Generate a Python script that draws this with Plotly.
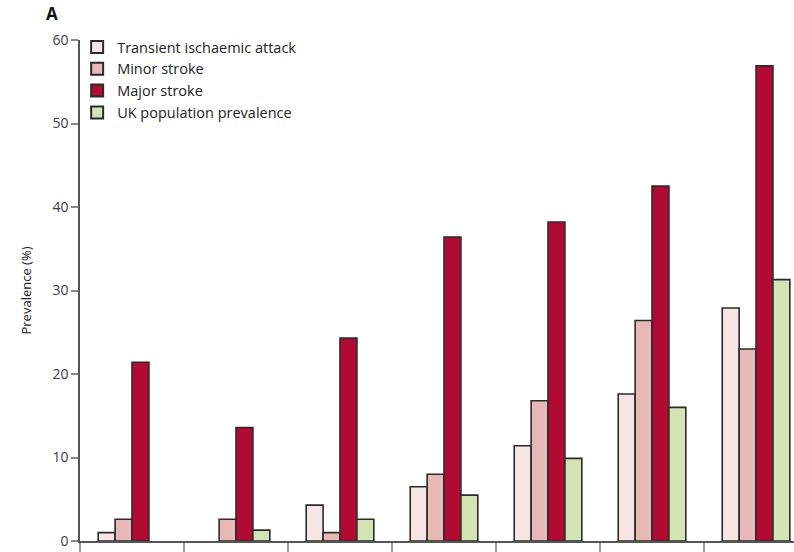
import plotly.graph_objects as go

# Seven age groups (boundaries ticked on the x axis, no labels)
groups = [0, 1, 2, 3, 4, 5, 6]

series_names = [
    "Transient ischaemic attack",
    "Minor stroke",
    "Major stroke",
    "UK population prevalence",
]
tia = [1.0, 0.0, 4.3, 6.5, 11.4, 17.6, 27.9]
minor = [2.6, 2.6, 1.0, 8.0, 16.8, 26.4, 23.0]
major = [21.4, 13.6, 24.3, 36.4, 38.2, 42.5, 56.9]
uk = [0.0, 1.3, 2.6, 5.5, 9.9, 16.0, 31.3]

y_ticks = [0, 10, 20, 30, 40, 50, 60]
x_boundaries = [-0.5, 0.5, 1.5, 2.5, 3.5, 4.5, 5.5]

colors = ["#F8E6E6", "#E8B8B6", "#B10A33", "#D4E3B5"]
font_family = "Open Sans, Noto Sans, sans-serif"
text_color = "#3a3a48"

fig = go.Figure()
for name, vals, col in zip(series_names, [tia, minor, major, uk], colors):
    fig.add_trace(go.Bar(
        x=groups,
        y=[v if v > 0 else None for v in vals],
        name=name,
        marker=dict(color=col, line=dict(color="#2a2a2a", width=1.6)),
    ))

fig.update_layout(
    width=794,
    height=552,
    margin=dict(l=80, r=0, t=40, b=11),
    paper_bgcolor="white",
    plot_bgcolor="white",
    barmode="group",
    bargap=0.35,
    bargroupgap=0,
    font=dict(family=font_family, size=13, color=text_color),
    showlegend=True,
    legend=dict(
        x=-0.004, y=1.018, xanchor="left", yanchor="top",
        bgcolor="rgba(0,0,0,0)",
        font=dict(size=14.5, color="#222222"),
        tracegroupgap=0,
        itemsizing="constant",
    ),
    xaxis=dict(
        range=[-0.5, 6.365],
        tickmode="array",
        tickvals=x_boundaries,
        ticktext=["" for _ in x_boundaries],
        ticks="outside",
        ticklen=9,
        tickcolor="#999999",
        tickwidth=1.5,
        showline=True,
        linecolor="#555555",
        linewidth=1.5,
        showgrid=False,
        zeroline=False,
        fixedrange=True,
    ),
    yaxis=dict(
        range=[0, 60],
        tickmode="array",
        tickvals=y_ticks,
        ticks="outside",
        ticklen=7,
        tickcolor="#888888",
        tickwidth=1.5,
        showline=True,
        linecolor="#555555",
        linewidth=1.5,
        showgrid=False,
        zeroline=False,
        tickfont=dict(size=14, color=text_color),
        title=dict(text="Prevalence (%)", font=dict(size=13, color="#222222"), standoff=18),
    ),
    annotations=[
        dict(
            text="<b>A</b>",
            x=(52 - 80) / 714, y=1 + (40 - 14) / 501,
            xref="paper", yref="paper", xanchor="center", yanchor="middle",
            showarrow=False, font=dict(size=17, color="#111111"),
        )
    ],
)

fig.write_html("out.html")
